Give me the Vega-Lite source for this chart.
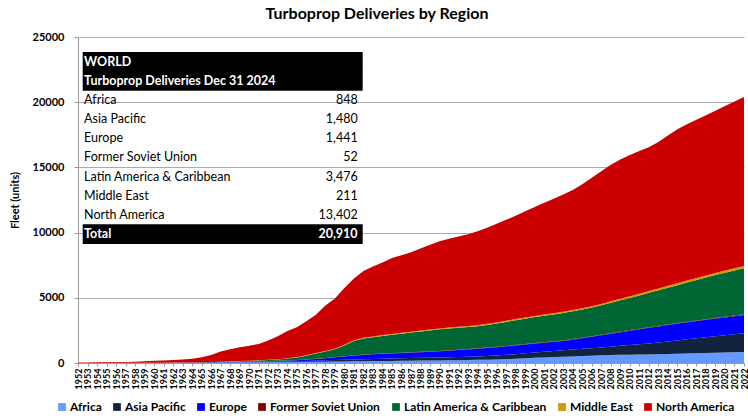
{
  "$schema": "https://vega.github.io/schema/vega-lite/v6.json",
  "width": 666,
  "height": 326,
  "autosize": {"type": "none"},
  "padding": {"left": 78, "top": 37, "right": 4, "bottom": 53},
  "background": "white",
  "config": {"font": "Lato", "view": {"stroke": null}},
  "title": {"text": "Turboprop Deliveries by Region", "fontSize": 16, "fontWeight": "bold", "font": "Lato", "color": "#000", "anchor": "middle", "dx": -34, "offset": 9},
  "datasets": {
    "fleet": [
      {"year":1952,"Africa":2,"Asia Pacific":1,"Europe":0,"Former Soviet Union":0,"Latin America & Caribbean":1,"Middle East":0,"North America":26},
      {"year":1953,"Africa":3,"Asia Pacific":1,"Europe":0,"Former Soviet Union":0,"Latin America & Caribbean":1,"Middle East":0,"North America":35},
      {"year":1954,"Africa":4,"Asia Pacific":1,"Europe":0,"Former Soviet Union":0,"Latin America & Caribbean":1,"Middle East":0,"North America":44},
      {"year":1955,"Africa":5,"Asia Pacific":2,"Europe":0,"Former Soviet Union":0,"Latin America & Caribbean":1,"Middle East":0,"North America":52},
      {"year":1956,"Africa":6,"Asia Pacific":2,"Europe":1,"Former Soviet Union":0,"Latin America & Caribbean":2,"Middle East":0,"North America":59},
      {"year":1957,"Africa":7,"Asia Pacific":2,"Europe":1,"Former Soviet Union":0,"Latin America & Caribbean":2,"Middle East":0,"North America":68},
      {"year":1958,"Africa":8,"Asia Pacific":3,"Europe":1,"Former Soviet Union":0,"Latin America & Caribbean":2,"Middle East":0,"North America":81},
      {"year":1959,"Africa":10,"Asia Pacific":3,"Europe":2,"Former Soviet Union":0,"Latin America & Caribbean":3,"Middle East":0,"North America":112},
      {"year":1960,"Africa":12,"Asia Pacific":4,"Europe":2,"Former Soviet Union":0,"Latin America & Caribbean":3,"Middle East":1,"North America":148},
      {"year":1961,"Africa":14,"Asia Pacific":5,"Europe":3,"Former Soviet Union":0,"Latin America & Caribbean":4,"Middle East":1,"North America":168},
      {"year":1962,"Africa":16,"Asia Pacific":6,"Europe":4,"Former Soviet Union":0,"Latin America & Caribbean":4,"Middle East":2,"North America":193},
      {"year":1963,"Africa":18,"Asia Pacific":7,"Europe":5,"Former Soviet Union":0,"Latin America & Caribbean":5,"Middle East":2,"North America":228},
      {"year":1964,"Africa":20,"Asia Pacific":8,"Europe":6,"Former Soviet Union":0,"Latin America & Caribbean":6,"Middle East":3,"North America":287},
      {"year":1965,"Africa":24,"Asia Pacific":10,"Europe":8,"Former Soviet Union":1,"Latin America & Caribbean":15,"Middle East":5,"North America":387},
      {"year":1966,"Africa":28,"Asia Pacific":12,"Europe":10,"Former Soviet Union":2,"Latin America & Caribbean":22,"Middle East":7,"North America":539},
      {"year":1967,"Africa":33,"Asia Pacific":14,"Europe":13,"Former Soviet Union":3,"Latin America & Caribbean":30,"Middle East":9,"North America":778},
      {"year":1968,"Africa":38,"Asia Pacific":17,"Europe":16,"Former Soviet Union":4,"Latin America & Caribbean":40,"Middle East":11,"North America":924},
      {"year":1969,"Africa":44,"Asia Pacific":20,"Europe":20,"Former Soviet Union":5,"Latin America & Caribbean":50,"Middle East":13,"North America":1048},
      {"year":1970,"Africa":50,"Asia Pacific":25,"Europe":25,"Former Soviet Union":6,"Latin America & Caribbean":60,"Middle East":15,"North America":1149},
      {"year":1971,"Africa":56,"Asia Pacific":30,"Europe":32,"Former Soviet Union":7,"Latin America & Caribbean":72,"Middle East":17,"North America":1246},
      {"year":1972,"Africa":62,"Asia Pacific":36,"Europe":40,"Former Soviet Union":8,"Latin America & Caribbean":85,"Middle East":19,"North America":1470},
      {"year":1973,"Africa":68,"Asia Pacific":42,"Europe":50,"Former Soviet Union":9,"Latin America & Caribbean":100,"Middle East":21,"North America":1760},
      {"year":1974,"Africa":74,"Asia Pacific":50,"Europe":62,"Former Soviet Union":10,"Latin America & Caribbean":140,"Middle East":24,"North America":2090},
      {"year":1975,"Africa":80,"Asia Pacific":60,"Europe":78,"Former Soviet Union":12,"Latin America & Caribbean":200,"Middle East":27,"North America":2293},
      {"year":1976,"Africa":88,"Asia Pacific":72,"Europe":100,"Former Soviet Union":14,"Latin America & Caribbean":290,"Middle East":30,"North America":2606},
      {"year":1977,"Africa":96,"Asia Pacific":84,"Europe":130,"Former Soviet Union":16,"Latin America & Caribbean":400,"Middle East":34,"North America":2940},
      {"year":1978,"Africa":104,"Asia Pacific":98,"Europe":165,"Former Soviet Union":18,"Latin America & Caribbean":500,"Middle East":38,"North America":3477},
      {"year":1979,"Africa":112,"Asia Pacific":110,"Europe":210,"Former Soviet Union":20,"Latin America & Caribbean":600,"Middle East":42,"North America":3856},
      {"year":1980,"Africa":120,"Asia Pacific":125,"Europe":260,"Former Soviet Union":22,"Latin America & Caribbean":820,"Middle East":46,"North America":4357},
      {"year":1981,"Africa":128,"Asia Pacific":140,"Europe":300,"Former Soviet Union":24,"Latin America & Caribbean":1100,"Middle East":50,"North America":4738},
      {"year":1982,"Africa":136,"Asia Pacific":155,"Europe":330,"Former Soviet Union":25,"Latin America & Caribbean":1230,"Middle East":54,"North America":5130},
      {"year":1983,"Africa":144,"Asia Pacific":168,"Europe":350,"Former Soviet Union":26,"Latin America & Caribbean":1292,"Middle East":57,"North America":5363},
      {"year":1984,"Africa":152,"Asia Pacific":180,"Europe":370,"Former Soviet Union":27,"Latin America & Caribbean":1351,"Middle East":60,"North America":5560},
      {"year":1985,"Africa":160,"Asia Pacific":190,"Europe":385,"Former Soviet Union":28,"Latin America & Caribbean":1407,"Middle East":62,"North America":5818},
      {"year":1986,"Africa":168,"Asia Pacific":198,"Europe":400,"Former Soviet Union":29,"Latin America & Caribbean":1455,"Middle East":64,"North America":5946},
      {"year":1987,"Africa":176,"Asia Pacific":205,"Europe":415,"Former Soviet Union":30,"Latin America & Caribbean":1504,"Middle East":66,"North America":6104},
      {"year":1988,"Africa":184,"Asia Pacific":212,"Europe":430,"Former Soviet Union":31,"Latin America & Caribbean":1563,"Middle East":68,"North America":6292},
      {"year":1989,"Africa":192,"Asia Pacific":218,"Europe":450,"Former Soviet Union":32,"Latin America & Caribbean":1608,"Middle East":70,"North America":6500},
      {"year":1990,"Africa":200,"Asia Pacific":224,"Europe":470,"Former Soviet Union":33,"Latin America & Caribbean":1653,"Middle East":72,"North America":6688},
      {"year":1991,"Africa":210,"Asia Pacific":232,"Europe":500,"Former Soviet Union":34,"Latin America & Caribbean":1664,"Middle East":74,"North America":6806},
      {"year":1992,"Africa":220,"Asia Pacific":240,"Europe":530,"Former Soviet Union":35,"Latin America & Caribbean":1675,"Middle East":76,"North America":6924},
      {"year":1993,"Africa":230,"Asia Pacific":250,"Europe":560,"Former Soviet Union":35,"Latin America & Caribbean":1685,"Middle East":78,"North America":7042},
      {"year":1994,"Africa":240,"Asia Pacific":260,"Europe":600,"Former Soviet Union":36,"Latin America & Caribbean":1684,"Middle East":80,"North America":7200},
      {"year":1995,"Africa":255,"Asia Pacific":280,"Europe":620,"Former Soviet Union":36,"Latin America & Caribbean":1729,"Middle East":82,"North America":7378},
      {"year":1996,"Africa":275,"Asia Pacific":300,"Europe":640,"Former Soviet Union":37,"Latin America & Caribbean":1768,"Middle East":84,"North America":7576},
      {"year":1997,"Africa":300,"Asia Pacific":325,"Europe":650,"Former Soviet Union":37,"Latin America & Caribbean":1838,"Middle East":86,"North America":7744},
      {"year":1998,"Africa":330,"Asia Pacific":350,"Europe":660,"Former Soviet Union":38,"Latin America & Caribbean":1902,"Middle East":88,"North America":7932},
      {"year":1999,"Africa":365,"Asia Pacific":380,"Europe":670,"Former Soviet Union":38,"Latin America & Caribbean":1947,"Middle East":90,"North America":8140},
      {"year":2000,"Africa":400,"Asia Pacific":410,"Europe":680,"Former Soviet Union":39,"Latin America & Caribbean":1991,"Middle East":92,"North America":8348},
      {"year":2001,"Africa":430,"Asia Pacific":440,"Europe":690,"Former Soviet Union":39,"Latin America & Caribbean":2031,"Middle East":95,"North America":8555},
      {"year":2002,"Africa":455,"Asia Pacific":470,"Europe":700,"Former Soviet Union":40,"Latin America & Caribbean":2055,"Middle East":98,"North America":8782},
      {"year":2003,"Africa":475,"Asia Pacific":500,"Europe":720,"Former Soviet Union":40,"Latin America & Caribbean":2095,"Middle East":101,"North America":8989},
      {"year":2004,"Africa":500,"Asia Pacific":530,"Europe":760,"Former Soviet Union":41,"Latin America & Caribbean":2129,"Middle East":104,"North America":9206},
      {"year":2005,"Africa":530,"Asia Pacific":555,"Europe":810,"Former Soviet Union":41,"Latin America & Caribbean":2164,"Middle East":107,"North America":9493},
      {"year":2006,"Africa":560,"Asia Pacific":575,"Europe":870,"Former Soviet Union":42,"Latin America & Caribbean":2203,"Middle East":110,"North America":9840},
      {"year":2007,"Africa":590,"Asia Pacific":600,"Europe":930,"Former Soviet Union":42,"Latin America & Caribbean":2258,"Middle East":114,"North America":10166},
      {"year":2008,"Africa":610,"Asia Pacific":640,"Europe":990,"Former Soviet Union":43,"Latin America & Caribbean":2337,"Middle East":118,"North America":10462},
      {"year":2009,"Africa":625,"Asia Pacific":690,"Europe":1050,"Former Soviet Union":43,"Latin America & Caribbean":2402,"Middle East":122,"North America":10668},
      {"year":2010,"Africa":640,"Asia Pacific":740,"Europe":1100,"Former Soviet Union":44,"Latin America & Caribbean":2466,"Middle East":126,"North America":10834},
      {"year":2011,"Africa":650,"Asia Pacific":790,"Europe":1150,"Former Soviet Union":44,"Latin America & Caribbean":2546,"Middle East":130,"North America":10940},
      {"year":2012,"Africa":660,"Asia Pacific":840,"Europe":1200,"Former Soviet Union":45,"Latin America & Caribbean":2635,"Middle East":134,"North America":11036},
      {"year":2013,"Africa":675,"Asia Pacific":900,"Europe":1230,"Former Soviet Union":45,"Latin America & Caribbean":2730,"Middle East":138,"North America":11232},
      {"year":2014,"Africa":695,"Asia Pacific":960,"Europe":1260,"Former Soviet Union":46,"Latin America & Caribbean":2819,"Middle East":142,"North America":11528},
      {"year":2015,"Africa":715,"Asia Pacific":1020,"Europe":1285,"Former Soviet Union":46,"Latin America & Caribbean":2904,"Middle East":146,"North America":11814},
      {"year":2016,"Africa":735,"Asia Pacific":1080,"Europe":1305,"Former Soviet Union":47,"Latin America & Caribbean":3003,"Middle East":150,"North America":11980},
      {"year":2017,"Africa":755,"Asia Pacific":1140,"Europe":1320,"Former Soviet Union":47,"Latin America & Caribbean":3108,"Middle East":154,"North America":12126},
      {"year":2018,"Africa":775,"Asia Pacific":1200,"Europe":1335,"Former Soviet Union":48,"Latin America & Caribbean":3202,"Middle East":158,"North America":12282},
      {"year":2019,"Africa":795,"Asia Pacific":1260,"Europe":1350,"Former Soviet Union":48,"Latin America & Caribbean":3287,"Middle East":162,"North America":12448},
      {"year":2020,"Africa":810,"Asia Pacific":1320,"Europe":1365,"Former Soviet Union":49,"Latin America & Caribbean":3376,"Middle East":166,"North America":12614},
      {"year":2021,"Africa":825,"Asia Pacific":1380,"Europe":1380,"Former Soviet Union":49,"Latin America & Caribbean":3456,"Middle East":170,"North America":12790},
      {"year":2022,"Africa":840,"Asia Pacific":1440,"Europe":1400,"Former Soviet Union":50,"Latin America & Caribbean":3530,"Middle East":174,"North America":12966}
    ],
    "table": [
      {"row":0,"label":"WORLD"},
      {"row":1,"label":"Turboprop Deliveries Dec 31 2024"},
      {"row":2,"label":"Africa","value":848},
      {"row":3,"label":"Asia Pacific","value":1480},
      {"row":4,"label":"Europe","value":1441},
      {"row":5,"label":"Former Soviet Union","value":52},
      {"row":6,"label":"Latin America & Caribbean","value":3476},
      {"row":7,"label":"Middle East","value":211},
      {"row":8,"label":"North America","value":13402},
      {"row":9,"label":"Total","value":20910}
    ]
  },
  "layer": [
    {
      "data": {"name": "fleet"},
      "transform": [{"fold": ["Africa","Asia Pacific","Europe","Former Soviet Union","Latin America & Caribbean","Middle East","North America"], "as": ["region","units"]}],
      "mark": {"type": "area", "interpolate": "linear"},
      "encoding": {
        "x": {"field": "year", "type": "ordinal", "scale": {"type": "point", "padding": 0},
          "axis": {"title": null, "labelAngle": 270, "labelFontSize": 9, "labelFontWeight": "bold", "labelColor": "#000", "labelOverlap": false, "labelPadding": 2, "tickSize": 3, "tickColor": "#999", "domainColor": "#999", "grid": false}},
        "y": {"field": "units", "type": "quantitative", "stack": "zero", "scale": {"domain": [0, 25000], "nice": false},
          "axis": {"title": "Fleet (units)", "titleFontSize": 11, "titleFontWeight": "bold", "titleColor": "#000", "titlePadding": 12, "values": [0,5000,10000,15000,20000,25000], "format": "d", "labelFontSize": 11, "labelFontWeight": "bold", "labelColor": "#000", "grid": true, "gridColor": "#ABABAB", "gridWidth": 1, "domainColor": "#999", "tickColor": "#999", "tickSize": 4, "labelPadding": 10}},
        "order": {"field": "region", "type": "ordinal", "sort": "ascending"},
        "color": {"field": "region", "type": "nominal",
          "scale": {"domain": ["Africa","Asia Pacific","Europe","Former Soviet Union","Latin America & Caribbean","Middle East","North America"], "range": ["#6699FF","#12233E","#0000FF","#800000","#006633","#CC9900","#CC0000"]},
          "legend": {"title": null, "orient": "none", "legendX": -22, "legendY": 364, "direction": "horizontal", "symbolType": "square", "symbolSize": 60, "symbolStrokeWidth": 0, "labelFontSize": 12, "labelFontWeight": "bold", "labelColor": "#000", "labelOffset": 2, "columnPadding": 9, "labelLimit": 300}}
      }
    },
    {
      "data": {"name": "table"},
      "encoding": {
        "y": {"field": "row", "type": "quantitative", "scale": {"domain": [-1.29, 15.73], "reverse": true, "nice": false, "zero": false}, "axis": null}
      },
      "layer": [
        {
          "transform": [{"filter": "datum.row <= 1 || datum.row == 9"}],
          "mark": {"type": "rect", "color": "#000", "height": 19.6},
          "encoding": {
            "x": {"datum": 0, "type": "quantitative", "scale": {"domain": [-0.0168, 2.362], "nice": false, "zero": false}, "axis": null},
            "x2": {"datum": 1}
          }
        },
        {
          "transform": [{"filter": "datum.row >= 2 && datum.row <= 8"}],
          "mark": {"type": "text", "align": "left", "baseline": "middle", "fontSize": 12.5, "color": "#000", "font": "Lato"},
          "encoding": {
            "x": {"datum": 0.005, "type": "quantitative", "scale": {"domain": [-0.0168, 2.362], "nice": false, "zero": false}, "axis": null},
            "text": {"field": "label", "type": "nominal"}
          }
        },
        {
          "transform": [{"filter": "datum.row >= 2 && datum.row <= 8"}],
          "mark": {"type": "text", "align": "right", "baseline": "middle", "fontSize": 12.5, "color": "#000", "font": "Lato"},
          "encoding": {
            "x": {"datum": 0.982, "type": "quantitative", "scale": {"domain": [-0.0168, 2.362], "nice": false, "zero": false}, "axis": null},
            "text": {"field": "value", "type": "quantitative", "format": ","}
          }
        },
        {
          "transform": [{"filter": "datum.row <= 1 || datum.row == 9"}],
          "mark": {"type": "text", "align": "left", "baseline": "middle", "fontSize": 12.5, "fontWeight": "bold", "color": "#FFF", "font": "Lato"},
          "encoding": {
            "x": {"datum": 0.005, "type": "quantitative", "scale": {"domain": [-0.0168, 2.362], "nice": false, "zero": false}, "axis": null},
            "text": {"field": "label", "type": "nominal"}
          }
        },
        {
          "transform": [{"filter": "datum.row == 9"}],
          "mark": {"type": "text", "align": "right", "baseline": "middle", "fontSize": 12.5, "fontWeight": "bold", "color": "#FFF", "font": "Lato"},
          "encoding": {
            "x": {"datum": 0.982, "type": "quantitative", "scale": {"domain": [-0.0168, 2.362], "nice": false, "zero": false}, "axis": null},
            "text": {"field": "value", "type": "quantitative", "format": ","}
          }
        }
      ]
    }
  ],
  "resolve": {"scale": {"x": "independent", "y": "independent"}}
}
